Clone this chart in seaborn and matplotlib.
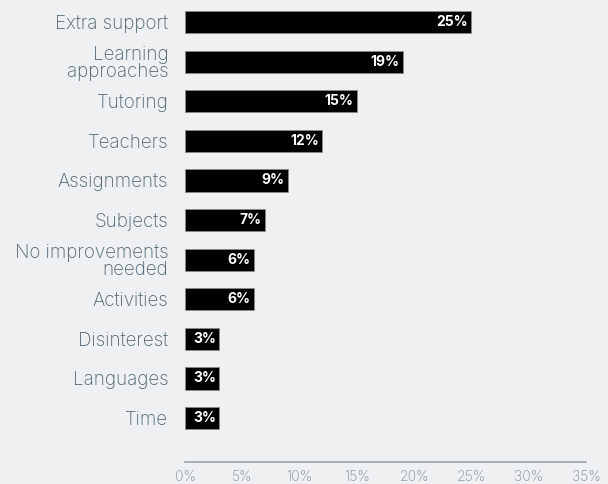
import matplotlib
matplotlib.use("Agg")
import matplotlib.pyplot as plt
import seaborn as sns
import pandas as pd

categories = ["Extra support", "Learning\napproaches", "Tutoring", "Teachers",
              "Assignments", "Subjects", "No improvements\nneeded", "Activities",
              "Disinterest", "Languages", "Time"]
shares = [25, 19, 15, 12, 9, 7, 6, 6, 3, 3, 3]
x_ticks = [0, 5, 10, 15, 20, 25, 30, 35]

bg = "#eff0f2"
sns.set_theme(style="white")
plt.rcParams["font.family"] = ["Inter", "DejaVu Sans"]

df = pd.DataFrame({"category": categories, "share": shares})

W, H = 608, 484
fig = plt.figure(figsize=(W / 100, H / 100), dpi=100, facecolor=bg)
ax = fig.add_axes([185 / W, 22 / H, (586 - 185) / W, (484 - 22) / H])
ax.set_facecolor(bg)

sns.barplot(data=df, x="share", y="category", color="black", width=0.56,
            edgecolor="#8a8a8a", linewidth=0.6, saturation=1, ax=ax)

for i, v in enumerate(shares):
    ax.text(v - 0.3, i, f"{v}%", ha="right", va="center", color="white",
            fontsize=10, fontweight="bold")

ax.set_xlim(0, 35)
ax.set_ylim(11.11, -0.556)
ax.set_xticks(x_ticks)
ax.set_xticklabels([f"{t}%" for t in x_ticks], color="#7a8f9c", fontsize=10,
                   fontweight="light")
ax.tick_params(axis="y", labelsize=13.5, labelcolor="#4d6573", length=0, pad=12)
ax.tick_params(axis="x", length=0, pad=6)
for lbl in ax.get_yticklabels():
    lbl.set_linespacing(0.92)
    lbl.set_fontweight("light")
ax.set_xlabel("")
ax.set_ylabel("")
for s in ["top", "right", "left"]:
    ax.spines[s].set_visible(False)
ax.spines["bottom"].set_color("#9aa3a8")
ax.spines["bottom"].set_linewidth(1.2)

fig.savefig("out.png", dpi=100, facecolor=bg)
